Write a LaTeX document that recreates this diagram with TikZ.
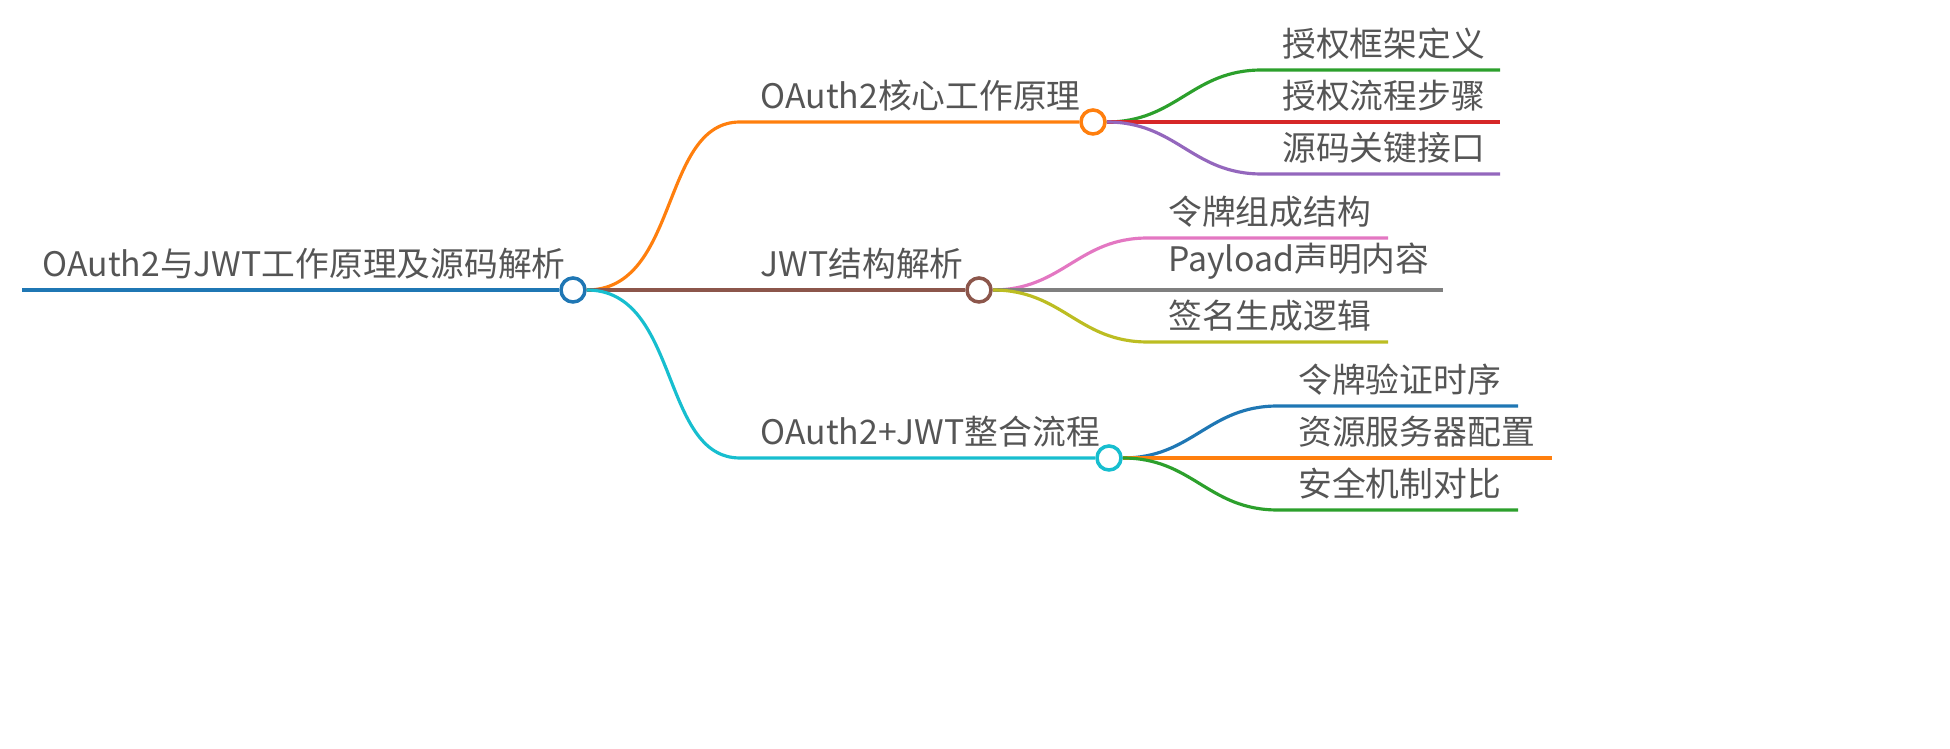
\documentclass[tikz,border=0pt]{standalone}
\usepackage{fontspec}
\setmainfont{Noto Sans CJK SC}
\usetikzlibrary{calc}
\definecolor{cblue}{HTML}{1F77B4}
\definecolor{corange}{HTML}{FF7F0E}
\definecolor{cbrown}{HTML}{8C564B}
\definecolor{ccyan}{HTML}{17BECF}
\definecolor{cgreen}{HTML}{2CA02C}
\definecolor{cred}{HTML}{D62728}
\definecolor{cpurple}{HTML}{9467BD}
\definecolor{cpink}{HTML}{E377C2}
\definecolor{cgray}{HTML}{7F7F7F}
\definecolor{colive}{HTML}{BCBD22}
\definecolor{ctext}{HTML}{555555}
\tikzset{
  hub/.style={circle,draw=#1,fill=white,line width=1pt,minimum size=0.24cm,inner sep=0pt},
  lbl/.style={anchor=south west,text=ctext,font=\fontsize{9.6}{10}\selectfont,inner sep=0pt},
  edge/.style={draw=#1,line width=0.9pt},
}
\begin{document}
\begin{tikzpicture}[x=0.01cm,y=-0.01cm]
\useasboundingbox (0,0) rectangle (1950,749);
% root
\coordinate (r0) at (22,290);
\node[hub=cblue] (root) at (573,290) {};
\node[lbl] (troot) at (42,280) {OAuth2与JWT工作原理及源码解析};
\draw[edge=cblue] (r0) -- (root);
% level 1
\coordinate (a0) at (740,122);
\coordinate (b0) at (740,290);
\coordinate (c0) at (740,458);
\node[hub=corange] (a) at (1093,122) {};
\node[hub=cbrown] (b) at (979,290) {};
\node[hub=ccyan] (c) at (1109,458) {};
\node[lbl] (ta) at (760,112) {OAuth2核心工作原理};
\node[lbl] (tb) at (760,280) {JWT结构解析};
\node[lbl] (tc) at (760,448) {OAuth2+JWT整合流程};
\draw[edge=corange] (root.east) .. controls (680,290) and (660,122) .. (a0) -- (a);
\draw[edge=cbrown] (root.east) -- (b);
\draw[edge=ccyan] (root.east) .. controls (680,290) and (660,458) .. (c0) -- (c);
% level 2
\foreach \p/\y/\e/\col/\txt [count=\i] in {
  a/70/1500/cgreen/授权框架定义, a/122/1500/cred/授权流程步骤, a/174/1500/cpurple/源码关键接口,
  b/238/1388/cpink/令牌组成结构, b/290/1443/cgray/Payload声明内容, b/342/1388/colive/签名生成逻辑,
  c/406/1518/cblue/令牌验证时序, c/458/1552/corange/资源服务器配置, c/510/1518/cgreen/安全机制对比}{
  \path (\p.east) coordinate (s\i);
  \path ($(s\i)+(155,0)$) coordinate (m\i);
  \path (m\i |- 0,\y) coordinate (k\i);
  \path (\e,\y) coordinate (e\i);
  \node[lbl] (t\i) at ($(k\i)+(20,-10)$) {\txt};
  \draw[edge=\col] (s\i) .. controls ($(s\i)+(70,0)$) and ($(k\i)+(-70,0)$) .. (k\i) -- (e\i);
}
\end{tikzpicture}
\end{document}
